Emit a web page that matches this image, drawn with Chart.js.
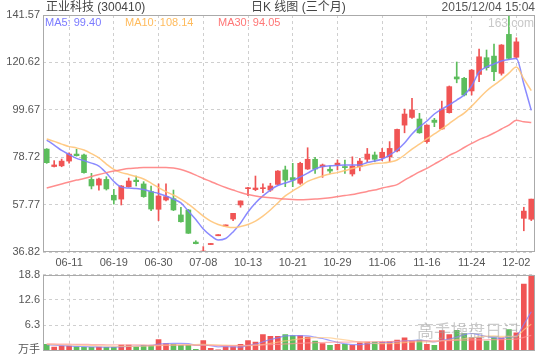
<!DOCTYPE html>
<html lang="zh">
<head>
<meta charset="UTF-8">
<title>正业科技 日K线图</title>
<script src="https://cdn.jsdelivr.net/npm/chart.js"></script>
<style>
  body { margin: 0; background: #fff; font-family: 'Liberation Sans', 'Noto Sans CJK SC', sans-serif; }
  #stage { position: relative; width: 540px; height: 360px; overflow: hidden; }
  .box { position: absolute; left: 0; width: 540px; }
  .txt { position: absolute; white-space: nowrap; }
</style>
</head>
<body>
<div id="stage">
  <div class="box" style="top:0;height:270px"><canvas id="kline"></canvas></div>
  <div class="box" style="top:262px;height:98px"><canvas id="vol"></canvas></div>

  <div class="txt" style="left:46px;top:0;font-size:12px;line-height:14px;color:#444">正业科技 (300410)</div>
  <div class="txt" style="left:251px;top:0;font-size:12px;line-height:14px;color:#444">日K 线图 (三个月)</div>
  <div class="txt" style="right:5px;top:0;font-size:12px;line-height:14px;color:#555">2015/12/04 15:04</div>
  <div class="txt" style="left:45px;top:16px;font-size:11px;line-height:13px;color:#7b7bff">MA5: 99.40</div>
  <div class="txt" style="left:125px;top:16px;font-size:11px;line-height:13px;color:#ffbb5c">MA10: 108.14</div>
  <div class="txt" style="left:218px;top:16px;font-size:11px;line-height:13px;color:#ff7777">MA30: 94.05</div>
  <div class="txt" style="left:488px;top:16px;font-size:12px;line-height:14px;color:#c8c8c8">163.com</div>
  <div class="txt" style="left:417px;top:322px;font-size:17px;line-height:20px;color:rgba(160,160,160,0.55)">高手操盘日记</div>
</div>

<script>
  // 日期
  const dates = ['06-08', '06-09', '06-10', '06-11', '06-12', '06-15', '06-16', '06-17', '06-18', '06-19',
    '06-23', '06-24', '06-25', '06-26', '06-29', '06-30', '07-01', '07-02', '07-03', '07-06',
    '07-07', '07-08', '07-09', '07-10', '10-08', '10-09', '10-12', '10-13', '10-14', '10-15',
    '10-16', '10-19', '10-20', '10-21', '10-22', '10-23', '10-26', '10-27', '10-28', '10-29',
    '10-30', '11-02', '11-03', '11-04', '11-05', '11-06', '11-09', '11-10', '11-11', '11-12',
    '11-13', '11-16', '11-17', '11-18', '11-19', '11-20', '11-23', '11-24', '11-25', '11-26',
    '11-27', '11-30', '12-01', '12-02', '12-03', '12-04'];

  const opens = [82.3, 74.6, 74.9, 77.0, 80.1, 79.7, 68.9, 66.4, 68.9, 61.9,
    60.2, 65.7, 68.6, 66.9, 63.5, 55.7, 59.8, 60.4, 53.2, 55.4,
    41.2, 36.82, 40.1, 44.0, 48.3, 51.4, 57.6, 64.8, 64.4, 64.8,
    64.2, 66.7, 73.1, 69.7, 67.2, 73.5, 77.8, 74.5, 73.4, 75.3,
    74.6, 71.3, 74.5, 77.8, 79.7, 78.5, 78.9, 81.5, 92.9, 96.3,
    95.6, 85.6, 95.1, 91.2, 98.4, 114.2, 113.6, 108.0, 115.3, 122.7,
    123.4, 115.8, 133.0, 122.9, 51.7, 51.3];
  const highs = [82.5, 77.2, 77.9, 80.7, 82.2, 80.1, 71.6, 69.5, 70.1, 64.5,
    66.2, 69.5, 70.4, 67.9, 66.0, 66.9, 66.9, 64.2, 56.6, 55.6,
    41.8, 39.2, 40.6, 44.5, 48.8, 53.9, 59.4, 65.4, 70.4, 66.9,
    67.2, 72.8, 74.8, 76.0, 76.5, 82.9, 78.7, 75.7, 74.8, 77.5,
    77.5, 78.9, 78.2, 82.6, 81.0, 82.6, 85.6, 91.2, 100.0, 104.7,
    98.1, 93.0, 95.9, 103.5, 110.2, 120.8, 114.0, 117.5, 126.5, 126.1,
    128.7, 128.5, 141.57, 131.5, 56.6, 60.2];
  const lows = [76.0, 74.4, 74.5, 76.1, 79.2, 71.7, 64.7, 64.2, 64.2, 58.0,
    57.6, 65.5, 66.0, 61.0, 55.1, 50.7, 59.4, 55.1, 50.0, 45.0,
    40.4, 36.82, 40.1, 44.0, 48.3, 50.7, 56.6, 61.7, 63.9, 63.0,
    63.6, 66.5, 65.7, 65.7, 66.7, 73.3, 71.6, 69.8, 71.6, 73.1,
    71.6, 70.4, 72.7, 76.7, 76.7, 77.2, 76.7, 81.1, 89.5, 95.9,
    89.3, 84.9, 92.2, 91.0, 98.2, 111.6, 105.8, 106.2, 112.1, 117.2,
    112.5, 115.0, 122.0, 122.5, 46.2, 50.7];
  const closes = [76.3, 75.3, 77.0, 80.1, 79.4, 71.9, 66.0, 69.1, 64.7, 59.8,
    66.0, 68.2, 67.9, 61.3, 55.8, 61.6, 61.3, 55.4, 50.2, 45.1,
    40.5, 37.1, 40.6, 44.5, 48.8, 53.9, 59.4, 65.1, 65.1, 65.1,
    66.0, 72.6, 68.6, 68.6, 76.0, 77.8, 73.5, 75.3, 72.6, 76.1,
    74.1, 74.8, 77.0, 80.1, 77.8, 80.9, 82.6, 91.0, 97.8, 99.6,
    89.5, 92.9, 94.1, 100.0, 109.9, 113.3, 106.2, 117.2, 123.1, 118.3,
    116.5, 128.3, 122.4, 129.7, 54.9, 60.2];

  const ma5 = [86.3, 84.1, 81.7, 79.9, 78.2, 77.2, 76.1, 74.8, 71.7, 68.0,
    65.5, 65.1, 64.9, 64.4, 63.5, 62.7, 61.6, 60.2, 58.5, 54.9,
    51.2, 47.0, 44.1, 42.1, 42.8, 45.7, 49.6, 54.5, 58.5, 61.6,
    64.2, 66.2, 67.3, 68.4, 70.0, 71.7, 73.5, 74.6, 74.9, 75.1,
    75.3, 75.3, 75.3, 76.4, 77.0, 77.9, 79.7, 81.9, 85.0, 89.0,
    92.1, 94.7, 97.8, 100.0, 101.8, 104.0, 106.2, 110.2, 116.4, 118.6,
    119.9, 121.2, 121.9, 122.3, 111.1, 99.4];
  const ma10 = [86.8, 85.7, 84.5, 83.4, 82.8, 81.9, 80.3, 78.4, 75.7, 73.3,
    71.9, 71.1, 70.2, 69.1, 67.3, 65.3, 63.5, 62.0, 60.2, 58.0,
    55.4, 52.7, 50.5, 49.0, 48.1, 47.6, 48.1, 49.0, 50.5, 52.7,
    55.4, 58.5, 61.6, 63.8, 65.8, 68.0, 69.3, 70.4, 71.3, 71.9,
    72.8, 73.7, 74.5, 75.3, 75.9, 76.1, 76.6, 77.5, 79.7, 82.3,
    84.5, 86.8, 89.0, 91.2, 93.6, 96.0, 98.2, 101.3, 104.7, 108.0,
    110.6, 113.0, 115.9, 118.6, 113.3, 108.14];
  const ma30 = [65.1, 66.0, 66.9, 67.8, 68.6, 69.3, 70.2, 71.1, 71.9, 72.6,
    73.2, 73.7, 73.9, 74.2, 74.2, 74.2, 74.2, 73.9, 73.3, 72.2,
    70.8, 69.3, 68.0, 66.6, 65.3, 64.2, 63.1, 62.2, 61.6, 61.1,
    60.8, 60.5, 60.2, 60.0, 59.9, 60.0, 60.2, 60.5, 60.8, 61.3,
    61.8, 62.2, 62.9, 63.6, 64.2, 65.1, 65.8, 66.6, 68.6, 70.4,
    72.2, 73.8, 75.7, 77.5, 79.5, 81.1, 83.0, 84.8, 86.5, 87.8,
    89.4, 91.2, 92.9, 95.0, 94.4, 94.05];

  // 成交量 (万手)
  const volumes = [1.48, 0.82, 1.06, 1.06, 0.9, 0.74, 0.74, 0.82, 0.74, 0.74,
    1.31, 1.31, 0.9, 1.23, 1.23, 2.71, 1.72, 1.48, 1.23, 1.23,
    0.25, 2.46, 0.49, 0.1, 0.9, 0.9, 1.48, 2.46, 2.05, 3.94,
    3.52, 3.52, 3.94, 3.69, 3.69, 3.28, 2.29, 1.72, 1.23, 1.48,
    1.48, 1.23, 1.9, 2.04, 2.04, 2.04, 2.22, 2.54, 3.13, 2.29,
    2.54, 1.48, 1.23, 4.93, 3.94, 5.0, 4.19, 3.13, 3.13, 2.29,
    3.13, 3.13, 5.17, 4.36, 16.5, 18.7];
  const volMa5 = [1.4, 1.3, 1.2, 1.1, 1.0, 0.95, 0.9, 0.85, 0.8, 0.8,
    0.9, 1.0, 1.05, 1.15, 1.25, 1.55, 1.7, 1.75, 1.75, 1.7,
    1.3, 1.35, 1.15, 0.9, 0.95, 0.9, 0.8, 1.25, 1.55, 2.15,
    2.7, 3.1, 3.6, 3.65, 3.65, 3.6, 3.3, 2.95, 2.45, 2.0,
    1.65, 1.45, 1.45, 1.65, 1.75, 1.85, 2.0, 2.2, 2.4, 2.45,
    2.55, 2.4, 2.1, 2.5, 2.8, 3.3, 3.9, 4.2, 3.85, 3.45,
    3.15, 2.95, 3.35, 3.6, 6.5, 9.6];
  const volMa10 = [1.5, 1.45, 1.4, 1.35, 1.3, 1.25, 1.2, 1.15, 1.1, 1.05,
    1.0, 1.0, 1.0, 1.05, 1.1, 1.2, 1.3, 1.35, 1.4, 1.45,
    1.45, 1.5, 1.45, 1.35, 1.3, 1.25, 1.2, 1.2, 1.3, 1.45,
    1.75, 2.05, 2.35, 2.6, 2.85, 3.05, 3.15, 3.2, 3.1, 2.85,
    2.6, 2.35, 2.1, 1.9, 1.75, 1.7, 1.7, 1.8, 1.95, 2.05,
    2.15, 2.1, 2.15, 2.4, 2.55, 2.7, 2.9, 3.1, 3.4, 3.55,
    3.6, 3.5, 3.5, 3.5, 5.1, 6.5];
  const volMa30 = [1.6, 1.6, 1.55, 1.55, 1.5, 1.5, 1.45, 1.45, 1.4, 1.4,
    1.4, 1.35, 1.35, 1.35, 1.3, 1.3, 1.3, 1.3, 1.3, 1.3,
    1.25, 1.25, 1.25, 1.2, 1.2, 1.2, 1.2, 1.25, 1.3, 1.35,
    1.45, 1.5, 1.6, 1.7, 1.75, 1.85, 1.9, 1.95, 2.0, 2.05,
    2.05, 2.1, 2.1, 2.15, 2.15, 2.2, 2.2, 2.25, 2.3, 2.3,
    2.35, 2.35, 2.35, 2.4, 2.45, 2.5, 2.55, 2.6, 2.6, 2.65,
    2.7, 2.7, 2.75, 2.8, 3.25, 3.75];

  const priceTicks = [36.82, 57.77, 78.72, 99.67, 120.62, 141.57];
  const volTicks = [0, 6.3, 12.6, 18.8];

  const RED = '#f05454';
  const GREEN = '#5cbd5c';
  const barColors = opens.map((o, i) => closes[i] >= o ? RED : GREEN);

  Chart.defaults.font.family = "'Liberation Sans', 'Noto Sans CJK SC', sans-serif";
  Chart.defaults.color = '#555';
  Chart.defaults.animation = false;

  // 画图区外框
  const framePlugin = {
    id: 'frame',
    afterDraw(chart) {
      const { ctx, chartArea: a } = chart;
      ctx.save();
      ctx.strokeStyle = '#aaa';
      ctx.lineWidth = 1;
      ctx.strokeRect(Math.round(a.left) + 0.5, Math.round(a.top) + 0.5,
        Math.round(a.right - a.left) - 1, Math.round(a.bottom - a.top) - 1);
      ctx.restore();
    }
  };

  function xAxis(showLabels) {
    return {
      grid: { color: '#cfcfcf', offset: false, drawTicks: false },
      border: { display: false, dash: [3, 3] },
      ticks: { display: showLabels, padding: 4, maxRotation: 0, autoSkip: false, font: { size: 11 } },
      afterBuildTicks: s => { s.ticks = s.ticks.filter(t => t.value % 6 === 3); },
      afterFit: s => { s.height = showLabels ? 18 : 0; }
    };
  }

  function maLine(data, color, width) {
    return {
      type: 'line',
      data: data,
      borderColor: color,
      borderWidth: width,
      pointRadius: 0,
      cubicInterpolationMode: 'monotone',
      order: 1
    };
  }

  new Chart(document.getElementById('kline'), {
    type: 'bar',
    data: {
      labels: dates,
      datasets: [
        {
          data: lows.map((l, i) => [l, highs[i]]),
          backgroundColor: barColors,
          barThickness: 1,
          grouped: false,
          order: 3
        },
        {
          data: opens.map((o, i) => [o, closes[i]]),
          backgroundColor: barColors,
          barThickness: 5,
          minBarLength: 1,
          grouped: false,
          order: 2
        },
        maLine(ma30, 'rgba(255,130,130,0.9)', 1.5),
        maLine(ma10, 'rgba(255,196,120,0.9)', 1.5),
        maLine(ma5, 'rgba(125,125,255,0.9)', 1.5)
      ]
    },
    options: {
      responsive: true,
      maintainAspectRatio: false,
      layout: { padding: { top: 15, right: 5, left: 0, bottom: 0 } },
      plugins: { legend: { display: false }, tooltip: { enabled: false } },
      scales: {
        x: xAxis(true),
        y: {
          min: 36.82,
          max: 141.57,
          afterBuildTicks: s => { s.ticks = priceTicks.map(v => ({ value: v })); },
          ticks: { padding: 3, font: { size: 11 }, callback: v => v.toFixed(2) },
          grid: { color: '#cfcfcf', drawTicks: false },
          border: { display: false, dash: [3, 3] },
          afterFit: s => { s.width = 43; }
        }
      }
    },
    plugins: [framePlugin]
  });

  new Chart(document.getElementById('vol'), {
    type: 'bar',
    data: {
      labels: dates,
      datasets: [
        {
          data: volumes,
          backgroundColor: barColors,
          barThickness: 5,
          order: 2
        },
        maLine(volMa30, 'rgba(255,150,150,0.7)', 1.2),
        maLine(volMa10, 'rgba(255,200,130,0.7)', 1.2),
        maLine(volMa5, 'rgba(130,130,255,0.75)', 1.2)
      ]
    },
    options: {
      responsive: true,
      maintainAspectRatio: false,
      layout: { padding: { top: 12.7, right: 5, left: 0, bottom: 9 } },
      plugins: { legend: { display: false }, tooltip: { enabled: false } },
      scales: {
        x: xAxis(false),
        y: {
          min: 0,
          max: 18.8,
          afterBuildTicks: s => { s.ticks = volTicks.map(v => ({ value: v })); },
          ticks: { padding: 3, font: { size: 11 }, callback: v => v === 0 ? '万手' : v.toFixed(1) },
          grid: { color: '#cfcfcf', drawTicks: false },
          border: { display: false, dash: [3, 3] },
          afterFit: s => { s.width = 43; }
        }
      }
    },
    plugins: [framePlugin]
  });
</script>
</body>
</html>
